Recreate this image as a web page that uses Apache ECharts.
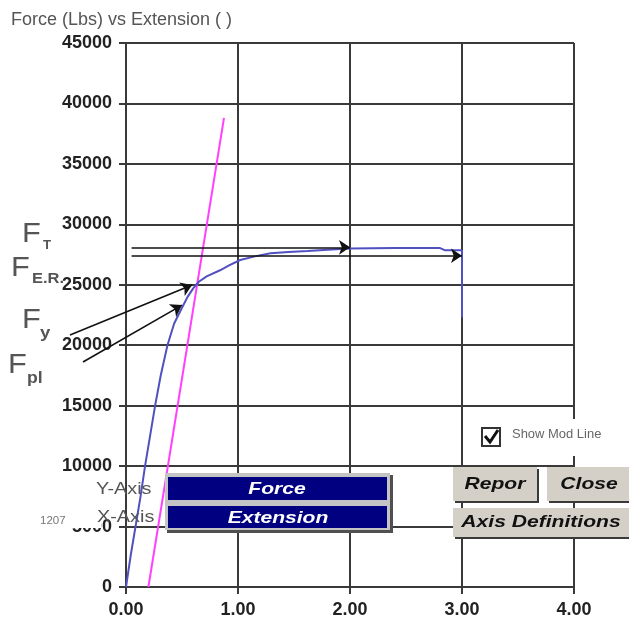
<!DOCTYPE html>
<html><head><meta charset="utf-8">
<script src="https://cdn.jsdelivr.net/npm/echarts@6/dist/echarts.min.js"></script>
<style>html,body{margin:0;padding:0;background:#fff}#c{width:629px;height:631px}</style>
</head><body><div id="c"></div><script>
// ---- data ----
const xTickLabels = ['0.00', '1.00', '2.00', '3.00', '4.00'];
const yTickLabels = ['0', '5000', '10000', '15000', '20000', '25000', '30000', '35000', '40000', '45000'];
const extension = [0, 0.04, 0.085, 0.13, 0.17, 0.215, 0.26, 0.31, 0.37, 0.43, 0.5, 0.55, 0.6, 0.65, 0.72, 0.84, 0.92, 1.02, 1.15, 1.29, 1.45, 1.62, 1.8, 2.0, 2.4, 2.8, 2.85, 3.0, 3.0];
const force = [0, 2500, 5000, 7500, 10000, 12500, 15000, 17500, 20000, 21800, 23100, 24000, 24700, 25250, 25700, 26200, 26600, 27050, 27350, 27600, 27720, 27800, 27900, 28000, 28050, 28050, 27850, 27850, 22300];
const modLineExt = [0.2, 0.875];
const modLineForce = [0, 38800];
const arrowStart = [[0.05, 28100], [0.05, 27400], [-0.5, 20840], [-0.384, 18610]];
const arrowEnd = [[2.0, 28100], [3.0, 27400], [0.59, 24980], [0.5, 23320]];

const FONT = 'Liberation Sans, Arial, sans-serif';
const chart = echarts.init(document.getElementById('c'), null, { renderer: 'canvas' });

function txt(text, x, y, o) {
  o = o || {};
  return {
    type: 'text', x: x, y: y, z: 120, scaleX: o.sx || 1.24,
    style: {
      text: text, fill: o.fill || '#555', fontFamily: FONT,
      fontSize: o.size || 16, fontWeight: o.weight || 'normal', fontStyle: o.style || 'normal',
      textAlign: o.align || 'left', textVerticalAlign: 'middle'
    }
  };
}
function rect(x, y, w, h, fill, z) {
  return { type: 'rect', z: z || 110, shape: { x: x, y: y, width: w, height: h }, style: { fill: fill } };
}
function button(x, y, w, h, label, cx) {
  return [
    rect(x + 2, y + 2, w, h, '#3a3a3a', 110),
    rect(x, y, w, h, '#d4d0c8', 111),
    txt(label, cx, y + h / 2, { fill: '#111', size: 17, weight: 'bold', style: 'italic', align: 'center' })
  ];
}

const graphics = [].concat(
  [
    txt('F', 22, 234, { size: 28, sx: 1.1 }), txt('T', 43, 246, { size: 12, weight: 'bold', sx: 1.1 }),
    txt('F', 11, 268, { size: 28, sx: 1.1 }), txt('E.R.', 32, 279, { size: 15, weight: 'bold', sx: 1.1 }),
    txt('F', 22, 320, { size: 28, sx: 1.1 }), txt('y', 40, 333, { size: 17, weight: 'bold', sx: 1.1 }),
    txt('F', 8, 365, { size: 28, sx: 1.1 }), txt('pl', 27, 379, { size: 16, weight: 'bold', sx: 1.1 })
  ],
  [rect(58, 507, 43, 21, '#fff', 105)],
  [txt('1207', 40, 521, { size: 10, fill: '#777', sx: 1.15 })],
  [txt('Y-Axis', 96, 490, { size: 16 }), txt('X-Axis', 97, 518, { size: 16 })],
  [
    rect(167, 475, 226, 58, '#505050', 110),
    rect(165, 473, 225, 57, '#c4c4c4', 111),
    rect(168, 477, 219, 23, '#000080', 112),
    rect(168, 506, 219, 22, '#000080', 112),
    txt('Force', 277, 489, { fill: '#fff', size: 17, weight: 'bold', style: 'italic', align: 'center' }),
    txt('Extension', 278, 518, { fill: '#fff', size: 17, weight: 'bold', style: 'italic', align: 'center' })
  ],
  [
    rect(505, 419, 107, 37, '#fff', 105),
    { type: 'rect', z: 112, shape: { x: 482, y: 428, width: 18, height: 18 }, style: { fill: '#fff', stroke: '#333', lineWidth: 2 } },
    { type: 'polyline', z: 113, shape: { points: [[485, 436], [490, 442], [498, 430]] }, style: { stroke: '#111', lineWidth: 3, fill: null } },
    txt('Show Mod Line', 512, 435, { size: 12, fill: '#666', sx: 1.08 })
  ],
  button(453, 467, 84, 34, 'Repor', 495),
  button(547, 467, 84, 34, 'Close', 589),
  button(453, 508, 178, 29, 'Axis Definitions', 541)
);

const option = {
  animation: false,
  backgroundColor: '#fff',
  title: {
    text: 'Force (Lbs) vs Extension ( )', left: 6, top: 6,
    textStyle: { fontFamily: FONT, fontSize: 18, fontWeight: 'normal', color: '#555' }
  },
  grid: { left: 126, top: 43, right: 55, bottom: 44, containLabel: false },
  xAxis: {
    type: 'value', min: 0, max: 4, interval: 1,
    axisLine: { show: true, lineStyle: { color: '#3a3a3a', width: 2 } },
    axisTick: { show: true, length: 7, lineStyle: { color: '#3a3a3a', width: 2 } },
    axisLabel: {
      margin: 14, color: '#222', fontFamily: FONT, fontSize: 18, fontWeight: 'bold',
      formatter: (v) => xTickLabels[Math.round(v)]
    },
    splitLine: { show: true, lineStyle: { color: '#3a3a3a', width: 2 } }
  },
  yAxis: {
    type: 'value', min: 0, max: 45000, interval: 5000,
    axisLine: { show: true, lineStyle: { color: '#3a3a3a', width: 2 } },
    axisTick: { show: true, length: 7, lineStyle: { color: '#3a3a3a', width: 2 } },
    axisLabel: {
      margin: 14, color: '#222', fontFamily: FONT, fontSize: 18, fontWeight: 'bold',
      formatter: (v) => yTickLabels[Math.round(v / 5000)]
    },
    splitLine: { show: true, lineStyle: { color: '#3a3a3a', width: 2 } }
  },
  series: [
    {
      name: 'Force', type: 'line', showSymbol: false, symbol: 'none', z: 3,
      data: extension.map((x, i) => [x, force[i]]),
      lineStyle: { color: '#5050c0', width: 2 }, itemStyle: { color: '#5050c0' }
    },
    {
      name: 'Mod Line', type: 'line', showSymbol: false, symbol: 'none', z: 2,
      data: modLineExt.map((x, i) => [x, modLineForce[i]]),
      lineStyle: { color: '#ff40ff', width: 2 }, itemStyle: { color: '#ff40ff' }
    },
    {
      name: 'Arrows', type: 'lines', coordinateSystem: 'cartesian2d', clip: false, z: 4,
      symbol: ['none', 'arrow'], symbolSize: 11,
      lineStyle: { color: '#111', width: 1.6, opacity: 1 },
      data: arrowStart.map((s, i) => ({ coords: [s, arrowEnd[i]] }))
    }
  ],
  graphic: { elements: graphics }
};
chart.setOption(option);
</script></body></html>
